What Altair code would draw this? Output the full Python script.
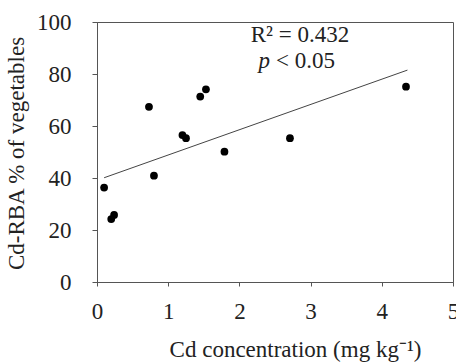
import altair as alt
import pandas as pd

cd_conc = [0.10, 0.20, 0.24, 0.73, 0.80, 1.20, 1.25, 1.45, 1.53, 1.79, 2.71, 4.34]
rba = [36.3, 24.2, 25.8, 67.4, 40.9, 56.5, 55.3, 71.3, 74.1, 50.1, 55.3, 75.1]
trend_x = [0.10, 4.36]
trend_y = [40.1, 81.5]

pts = pd.DataFrame({"x": cd_conc, "y": rba})
trend = pd.DataFrame({"x": trend_x, "y": trend_y})

FONT = "Liberation Serif"
FS = 23
xs = alt.Scale(domain=[0, 5], nice=False, zero=True)
ys = alt.Scale(domain=[0, 100], nice=False)

xaxis = alt.Axis(values=[0, 1, 2, 3, 4, 5], format="d", grid=False,
                 title="Cd concentration (mg kg\u207b\u00b9)",
                 titleFont=FONT, titleFontSize=FS, titleFontWeight="normal",
                 titleColor="#222", titleX=198, titleY=74,
                 titleBaseline="alphabetic", titleAlign="center",
                 labelFont=FONT, labelFontSize=FS, labelColor="#222",
                 labelPadding=14, tickSize=4, tickColor="#555",
                 domainColor="#555", labelFlush=False, labelOverlap=False)
yaxis = alt.Axis(values=[0, 20, 40, 60, 80, 100], grid=False,
                 title="Cd-RBA % of vegetables",
                 titleFont=FONT, titleFontSize=FS, titleFontWeight="normal",
                 titleColor="#222", titleX=-74, titleY=131, titleAngle=270,
                 titleBaseline="alphabetic", titleAlign="center",
                 labelFont=FONT, labelFontSize=FS, labelColor="#222",
                 labelPadding=21, tickSize=5, tickColor="#555",
                 domainColor="#555", labelFlush=False)

points = alt.Chart(pts).mark_circle(size=60, color="black", opacity=1).encode(
    x=alt.X("x:Q", scale=xs, axis=xaxis),
    y=alt.Y("y:Q", scale=ys, axis=yaxis),
)

line = alt.Chart(trend).mark_line(color="#444", strokeWidth=1).encode(
    x=alt.X("x:Q", scale=xs),
    y=alt.Y("y:Q", scale=ys),
)

r2 = alt.Chart(pd.DataFrame({"t": ["R\u00b2 = 0.432"]})).mark_text(
    font=FONT, fontSize=FS, color="#222", align="center", baseline="alphabetic"
).encode(x=alt.value(203), y=alt.value(20), text="t:N")

p_it = alt.Chart(pd.DataFrame({"t": ["p"]})).mark_text(
    font=FONT, fontSize=FS, fontStyle="italic", color="#222", align="right", baseline="alphabetic"
).encode(x=alt.value(173), y=alt.value(46), text="t:N")

p_rest = alt.Chart(pd.DataFrame({"t": ["< 0.05"]})).mark_text(
    font=FONT, fontSize=FS, color="#222", align="left", baseline="alphabetic"
).encode(x=alt.value(179), y=alt.value(46), text="t:N")

chart = alt.layer(line, points, r2, p_it, p_rest).properties(
    width=356, height=260,
    autosize=alt.AutoSizeParams(type="none"),
    padding={"left": 97, "top": 22, "right": 3, "bottom": 81},
    background="white",
).configure_view(stroke="#555", strokeWidth=1)

chart.save("out.html", embed_options={"renderer": "svg", "actions": False})
